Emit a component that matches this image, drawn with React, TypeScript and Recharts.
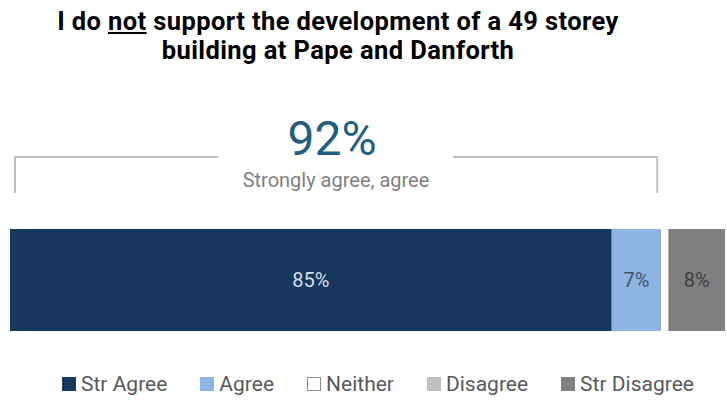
import React from 'react';
import { BarChart, Bar, XAxis, YAxis, LabelList } from 'recharts';

const seriesNames = ['Str Agree', 'Agree', 'Neither', 'Disagree', 'Str Disagree'];
const seriesKeys = ['strAgree', 'agree', 'neither', 'disagree', 'strDisagree'];
const seriesValues = [85, 7, 1, 0, 8];
const seriesColors = ['#17375e', '#8db4e2', '#ffffff', '#bfbfbf', '#808080'];
const labelColors = ['#d9dde3', '#44546a', '#404040', '#404040', '#404040'];
const combinedValue = 92;
const combinedLabel = 'Strongly agree, agree';

const W = 727;
const H = 404;
const margin = { top: 229, right: 2, bottom: 73, left: 10 };
const domainMax = seriesValues.reduce((a, b) => a + b, 0);
const font = 'Roboto, "Liberation Sans", sans-serif';

const row: Record<string, number | string> = { name: 'all' };
seriesKeys.forEach((k, i) => { row[k] = seriesValues[i]; });
const data = [row];

// same linear mapping as the hidden x axis
const xAt = (v: number) => margin.left + (v / domainMax) * (W - margin.left - margin.right);

export default function App() {
  const bl = xAt(0) + 5;
  const br = xAt(combinedValue) - 4;
  return (
    <div style={{ position: 'absolute', left: 0, top: 0, width: W, height: H, background: '#fff', fontFamily: font, overflow: 'hidden' }}>
      <div style={{ position: 'absolute', top: 7, left: 0, width: 676, textAlign: 'center', fontWeight: 700, fontSize: 25.5, lineHeight: '29px', color: '#000', letterSpacing: 0.4 }}>
        I do <span style={{ textDecoration: 'underline' }}>not</span> support the development of a 49 storey<br />
        building at Pape and Danforth
      </div>
      <svg width={W} height={H} style={{ position: 'absolute', left: 0, top: 0 }}>
        <polyline points={`${bl},193 ${bl},157 218,157`} fill="none" stroke="#bfbfbf" strokeWidth={2} />
        <polyline points={`453,157 ${br},157 ${br},193`} fill="none" stroke="#bfbfbf" strokeWidth={2} />
        <text x={332} y={155} textAnchor="middle" fontSize={48} fill="#1f5f80" fontFamily={font}>{combinedValue}%</text>
        <text x={336} y={187} textAnchor="middle" fontSize={20} fill="#7f7f7f" fontFamily={font}>{combinedLabel}</text>
      </svg>
      <div style={{ position: 'absolute', left: 0, top: 0 }}>
        <BarChart width={W} height={H} data={data} layout="vertical" margin={margin} barCategoryGap={0}>
          <XAxis type="number" hide domain={[0, domainMax]} />
          <YAxis type="category" dataKey="name" hide />
          {seriesKeys.map((k, i) => (
            <Bar key={k} dataKey={k} stackId="a" fill={seriesColors[i]} isAnimationActive={false}>
              <LabelList
                dataKey={k}
                position="center"
                formatter={(v: number) => (v >= 5 ? `${v}%` : '')}
                fill={labelColors[i]}
                fontSize={20}
                fontFamily={font}
              />
            </Bar>
          ))}
        </BarChart>
      </div>
      <div style={{ position: 'absolute', top: 372, left: 62, display: 'flex', fontSize: 21, color: '#595959', whiteSpace: 'nowrap' }}>
        {seriesNames.map((n, i) => (
          <div key={n} style={{ display: 'flex', alignItems: 'center', marginRight: 33 }}>
            <span style={{ display: 'inline-block', width: 12, height: 12, background: seriesColors[i], border: seriesColors[i] === '#ffffff' ? '1px solid #8c8c8c' : `1px solid ${seriesColors[i]}`, marginRight: 5 }} />
            <span>{n}</span>
          </div>
        ))}
      </div>
    </div>
  );
}
